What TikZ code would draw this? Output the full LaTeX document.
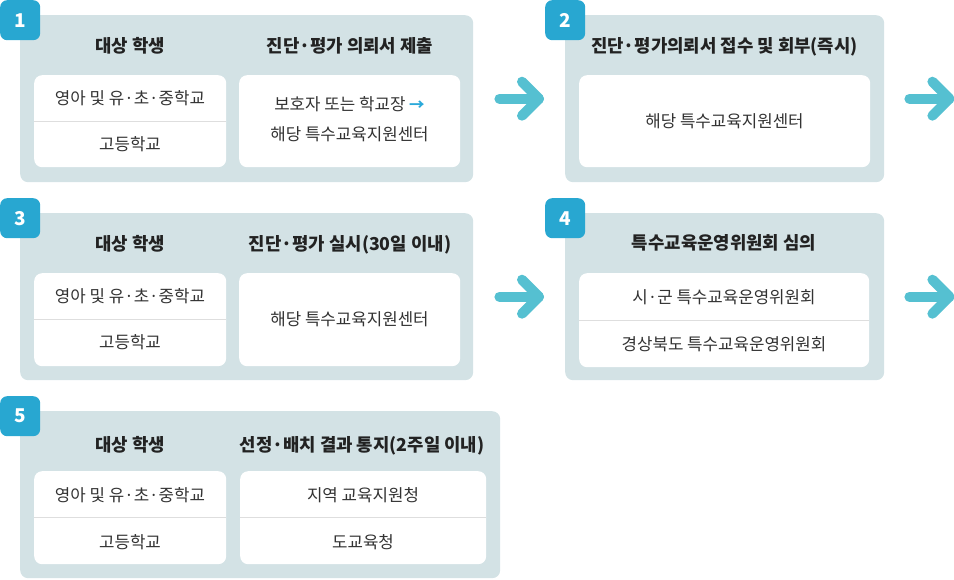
\documentclass[tikz,border=0pt]{standalone}
\usepackage{fontspec}
\setmainfont{Noto Sans CJK KR}
\definecolor{panelc}{HTML}{D3E2E5}
\definecolor{badgec}{HTML}{28A7D1}
\definecolor{arrowc}{HTML}{55C0D1}
\definecolor{headc}{HTML}{222222}
\definecolor{bodyc}{HTML}{333333}
\definecolor{linec}{HTML}{DEDEDE}
\definecolor{smallarrow}{HTML}{2AA9DA}
\tikzset{
 panel/.style={fill=panelc, rounded corners=8pt, anchor=north west, inner sep=0pt, draw=none},
 wbox/.style={fill=white, rounded corners=8pt, anchor=north west, inner sep=0pt},
 badge/.style={fill=badgec, rounded corners=7pt, minimum size=40pt, anchor=north west, inner sep=0pt, text=white, font=\fontsize{19}{19}\selectfont\bfseries},
 head/.style={anchor=base, inner sep=0pt, text=headc, font=\fontsize{17.8}{18}\selectfont\bfseries},
 body/.style={anchor=base, inner sep=0pt, text=bodyc, font=\fontsize{16.8}{17}\selectfont},
 divider/.style={draw=linec, line width=1pt},
 bigarrow/.style={draw=arrowc, line width=10pt, line cap=round, line join=round},
}
\begin{document}
\begin{tikzpicture}[x=1pt,y=-1pt]
\useasboundingbox (0,0) rectangle (954,579);
% panels
\node[panel, minimum width=453pt, minimum height=167pt] (p1) at (20,15) {};
\node[panel, minimum width=319pt, minimum height=167pt] (p2) at (565,15) {};
\node[panel, minimum width=453pt, minimum height=167pt] (p3) at (20,213) {};
\node[panel, minimum width=319pt, minimum height=167pt] (p4) at (565,213) {};
\node[panel, minimum width=480pt, minimum height=167pt] (p5) at (20,411) {};
% badges
\node[badge] (b1) at (0,0) {1};
\node[badge] (b2) at (545,0) {2};
\node[badge] (b3) at (0,198) {3};
\node[badge] (b4) at (545,198) {4};
\node[badge] (b5) at (0,396) {5};
% white boxes
\node[wbox, minimum width=192pt, minimum height=92pt] (w1a) at (34,75) {};
\node[wbox, minimum width=221pt, minimum height=92pt] (w1b) at (239,75) {};
\node[wbox, minimum width=291pt, minimum height=92pt] (w2) at (579,75) {};
\node[wbox, minimum width=192pt, minimum height=93pt] (w3a) at (34,273) {};
\node[wbox, minimum width=221pt, minimum height=93pt] (w3b) at (239,273) {};
\node[wbox, minimum width=290pt, minimum height=94pt] (w4) at (579,273) {};
\node[wbox, minimum width=192pt, minimum height=93pt] (w5a) at (34,471) {};
\node[wbox, minimum width=246pt, minimum height=93pt] (w5b) at (240,471) {};
% dividers
\draw[divider] (w1a.west |- 0,121.5) -- (w1a.east |- 0,121.5);
\draw[divider] (w3a.west |- 0,319.5) -- (w3a.east |- 0,319.5);
\draw[divider] (w4.west |- 0,320) -- (w4.east |- 0,320);
\draw[divider] (w5a.west |- 0,517.5) -- (w5a.east |- 0,517.5);
\draw[divider] (w5b.west |- 0,517.5) -- (w5b.east |- 0,517.5);
% panel 1
\node[head] (h1a) at (130,52.5) {대상 학생};
\node[head] (h1b) at (350,52.5) {진단·평가 의뢰서 제출};
\node[body] (t1a) at (130,104) {영아 및 유·초·중학교};
\node[body] (t1b) at (130,150) {고등학교};
\node[body] (t1c) at (349.5,110) {보호자 또는 학교장 {\fontsize{15.5}{16}\selectfont\bfseries\textcolor{smallarrow}{→}}};
\node[body] (t1d) at (349.5,140) {해당 특수교육지원센터};
% panel 2
\node[head] (h2) at (724.5,52.5) {진단·평가의뢰서 접수 및 회부(즉시)};
\node[body] (t2) at (724.5,127) {해당 특수교육지원센터};
% panel 3
\node[head] (h3a) at (130,250.5) {대상 학생};
\node[head] (h3b) at (350,250.5) {진단·평가 실시(30일 이내)};
\node[body] (t3a) at (130,302) {영아 및 유·초·중학교};
\node[body] (t3b) at (130,348) {고등학교};
\node[body] (t3c) at (349.5,325) {해당 특수교육지원센터};
% panel 4
\node[head] (h4) at (724,249.5) {특수교육운영위원회 심의};
\node[body] (t4a) at (724,303) {시·군 특수교육운영위원회};
\node[body] (t4b) at (724,350) {경상북도 특수교육운영위원회};
% panel 5
\node[head] (h5a) at (130,451.5) {대상 학생};
\node[head] (h5b) at (362,451.5) {선정·배치 결과 통지(2주일 이내)};
\node[body] (t5a) at (130,501) {영아 및 유·초·중학교};
\node[body] (t5b) at (130,548) {고등학교};
\node[body] (t5c) at (363,501) {지역 교육지원청};
\node[body] (t5d) at (363,548) {도교육청};
% arrows
\coordinate (a1s) at ([xshift=26pt]p1.east);
\coordinate (a1e) at ([xshift=-26pt]p2.west);
\coordinate (a2s) at ([xshift=25pt]p2.east);
\coordinate (a2e) at ([xshift=65pt]p2.east);
\coordinate (a3s) at ([xshift=26pt]p3.east);
\coordinate (a3e) at ([xshift=-26pt]p4.west);
\coordinate (a4s) at ([xshift=25pt]p4.east);
\coordinate (a4e) at ([xshift=65pt]p4.east);
\foreach \s/\e in {a1s/a1e, a2s/a2e, a3s/a3e, a4s/a4e}{
  \draw[bigarrow] (\s) -- (\e);
  \draw[bigarrow] ([shift={(-17pt,17pt)}]\e) -- (\e) -- ([shift={(-17pt,-17pt)}]\e);
}
\end{tikzpicture}
\end{document}
